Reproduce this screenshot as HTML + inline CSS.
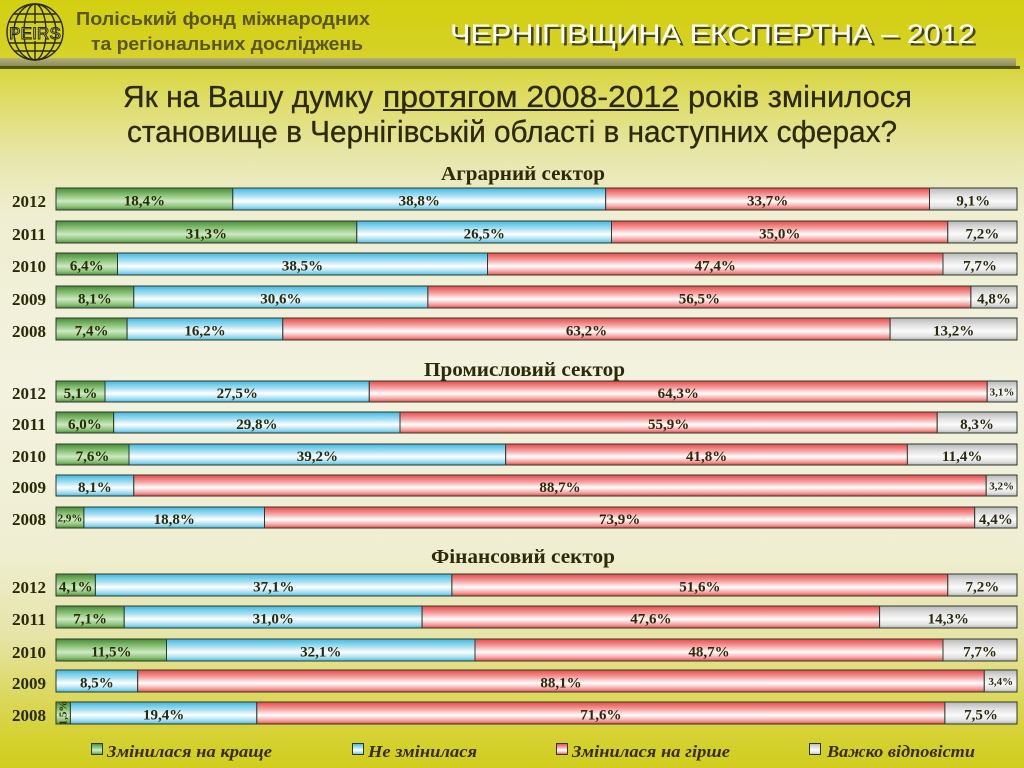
<!DOCTYPE html>
<html><head><meta charset="utf-8"><style>
html,body{margin:0;padding:0;width:1024px;height:768px;overflow:hidden;}
svg{display:block;}
.yr{font-family:"Liberation Serif",serif;font-weight:bold;font-size:17px;fill:#2a2a08;}
.lb{font-family:"Liberation Serif",serif;font-weight:bold;font-size:15px;fill:#2b2b0c;text-anchor:middle;}
.sm{font-family:"Liberation Serif",serif;font-weight:bold;font-size:11px;fill:#2b2b0c;text-anchor:middle;}
.st{font-family:"Liberation Serif",serif;font-weight:bold;font-size:20px;fill:#2d2a0a;}
.q{font-family:"Liberation Sans",sans-serif;font-size:31px;fill:#2d2a0a;stroke:#2d2a0a;stroke-width:0.3;}
.lg{font-family:"Liberation Serif",serif;font-weight:bold;font-style:italic;font-size:17px;fill:#3b2a06;}
</style></head><body>
<svg width="1024" height="768" viewBox="0 0 1024 768" xmlns="http://www.w3.org/2000/svg">
<defs>
<linearGradient id="bg" x1="0" y1="0" x2="0" y2="1">
<stop offset="0" stop-color="#d3cf10"/><stop offset="0.075" stop-color="#d6d228"/>
<stop offset="0.1" stop-color="#dbd84a"/><stop offset="0.2" stop-color="#e7e6a8"/>
<stop offset="0.28" stop-color="#efeed2"/><stop offset="0.5" stop-color="#f3f2e0"/>
<stop offset="0.72" stop-color="#efeed2"/><stop offset="0.83" stop-color="#e6e4a6"/>
<stop offset="0.92" stop-color="#dad652"/><stop offset="0.97" stop-color="#d4d02c"/>
<stop offset="1" stop-color="#d1cd1e"/></linearGradient>
<linearGradient id="G" x1="0" y1="0" x2="0" y2="1"><stop offset="0" stop-color="#4a8a3a"/><stop offset="0.35" stop-color="#8ec77c"/><stop offset="0.6" stop-color="#cfe9c3"/><stop offset="0.85" stop-color="#88c276"/><stop offset="1" stop-color="#4f8c40"/></linearGradient>
<linearGradient id="B" x1="0" y1="0" x2="0" y2="1"><stop offset="0" stop-color="#40b8e0"/><stop offset="0.35" stop-color="#a8e0f2"/><stop offset="0.6" stop-color="#ffffff"/><stop offset="0.85" stop-color="#a0dcf0"/><stop offset="1" stop-color="#48bce2"/></linearGradient>
<linearGradient id="R" x1="0" y1="0" x2="0" y2="1"><stop offset="0" stop-color="#e84848"/><stop offset="0.35" stop-color="#f6a8a8"/><stop offset="0.6" stop-color="#ffffff"/><stop offset="0.85" stop-color="#f4a0a0"/><stop offset="1" stop-color="#e84c4c"/></linearGradient>
<linearGradient id="Y" x1="0" y1="0" x2="0" y2="1"><stop offset="0" stop-color="#b8b8b8"/><stop offset="0.35" stop-color="#e4e4e4"/><stop offset="0.6" stop-color="#fafafa"/><stop offset="0.85" stop-color="#e0e0e0"/><stop offset="1" stop-color="#b4b4b4"/></linearGradient>
<linearGradient id="band" x1="0" y1="0" x2="0" y2="1"><stop offset="0" stop-color="#b4b27a"/><stop offset="1" stop-color="#8e8c58"/></linearGradient>
</defs>
<rect x="0" y="0" width="1024" height="768" fill="url(#bg)"/>

<!-- header -->
<rect x="0" y="58" width="1016" height="8" fill="url(#band)"/>
<rect x="0" y="66" width="1020" height="3" fill="#55560e"/>
<g fill="none" stroke="#2a2a1a" stroke-width="1.4">
<circle cx="35" cy="32" r="28"/>
<ellipse cx="35" cy="32" rx="11" ry="28"/>
<ellipse cx="35" cy="32" rx="21" ry="28"/>
<line x1="35" y1="4" x2="35" y2="24"/>
<line x1="35" y1="41" x2="35" y2="60"/>
<line x1="14" y1="14" x2="56" y2="14"/>
<line x1="9" y1="22" x2="61" y2="22"/>
<line x1="9" y1="43" x2="61" y2="43"/>
<line x1="14" y1="51" x2="56" y2="51"/>
</g>
<text x="35" y="39" text-anchor="middle" font-family="Liberation Sans, sans-serif" font-size="17" fill="#e2de6a" stroke="#222" stroke-width="0.9" textLength="52" lengthAdjust="spacingAndGlyphs">PEIRS</text>
<text x="76" y="25" font-family="Liberation Sans, sans-serif" font-weight="bold" font-size="18" fill="#5b5520" textLength="294" lengthAdjust="spacingAndGlyphs">Поліський фонд міжнародних</text>
<text x="91" y="50" font-family="Liberation Sans, sans-serif" font-weight="bold" font-size="18" fill="#5b5520" textLength="272" lengthAdjust="spacingAndGlyphs">та регіональних досліджень</text>
<text x="452.5" y="45.5" font-family="Liberation Sans, sans-serif" font-size="27" fill="#333322" opacity="0.9" textLength="525" lengthAdjust="spacingAndGlyphs">ЧЕРНІГІВЩИНА ЕКСПЕРТНА – 2012</text>
<text x="450" y="43" font-family="Liberation Sans, sans-serif" font-size="27" fill="#ffffff" textLength="525" lengthAdjust="spacingAndGlyphs">ЧЕРНІГІВЩИНА ЕКСПЕРТНА – 2012</text>

<!-- question -->
<text class="q" x="123" y="107" textLength="250" lengthAdjust="spacingAndGlyphs">Як на Вашу думку</text>
<text class="q" x="383" y="107" textLength="296" lengthAdjust="spacingAndGlyphs">протягом 2008-2012</text>
<line x1="383" y1="110" x2="679" y2="110" stroke="#2d2a0a" stroke-width="2"/>
<text class="q" x="688" y="107" textLength="224" lengthAdjust="spacingAndGlyphs">років змінилося</text>
<text class="q" x="127" y="142" textLength="770" lengthAdjust="spacingAndGlyphs">становище в Чернігівській області в наступних сферах?</text>

<!-- section titles -->
<text class="st" x="441" y="180" textLength="164" lengthAdjust="spacingAndGlyphs">Аграрний сектор</text>
<text class="st" x="424" y="376" textLength="201" lengthAdjust="spacingAndGlyphs">Промисловий сектор</text>
<text class="st" x="431" y="563" textLength="184" lengthAdjust="spacingAndGlyphs">Фінансовий сектор</text>

<!-- bars -->
<g stroke="#2c3a2c" stroke-width="1">
<rect x="56" y="188" width="176.8" height="22" fill="url(#G)"/><rect x="232.8" y="188" width="372.9" height="22" fill="url(#B)"/><rect x="605.7" y="188" width="323.8" height="22" fill="url(#R)"/><rect x="929.5" y="188" width="87.5" height="22" fill="url(#Y)"/>
<rect x="56" y="221" width="300.8" height="22" fill="url(#G)"/><rect x="356.8" y="221" width="254.7" height="22" fill="url(#B)"/><rect x="611.5" y="221" width="336.3" height="22" fill="url(#R)"/><rect x="947.8" y="221" width="69.2" height="22" fill="url(#Y)"/>
<rect x="56" y="253" width="61.5" height="22" fill="url(#G)"/><rect x="117.5" y="253" width="370" height="22" fill="url(#B)"/><rect x="487.5" y="253" width="455.5" height="22" fill="url(#R)"/><rect x="943" y="253" width="74" height="22" fill="url(#Y)"/>
<rect x="56" y="286" width="77.8" height="22" fill="url(#G)"/><rect x="133.8" y="286" width="294.1" height="22" fill="url(#B)"/><rect x="427.9" y="286" width="543" height="22" fill="url(#R)"/><rect x="970.9" y="286" width="46.1" height="22" fill="url(#Y)"/>
<rect x="56" y="318" width="71.1" height="22" fill="url(#G)"/><rect x="127.1" y="318" width="155.7" height="22" fill="url(#B)"/><rect x="282.8" y="318" width="607.3" height="22" fill="url(#R)"/><rect x="890.1" y="318" width="126.9" height="22" fill="url(#Y)"/>
<rect x="56" y="381" width="49" height="21" fill="url(#G)"/><rect x="105" y="381" width="264.3" height="21" fill="url(#B)"/><rect x="369.3" y="381" width="617.9" height="21" fill="url(#R)"/><rect x="987.2" y="381" width="29.8" height="21" fill="url(#Y)"/>
<rect x="56" y="412" width="57.7" height="21" fill="url(#G)"/><rect x="113.7" y="412" width="286.3" height="21" fill="url(#B)"/><rect x="400" y="412" width="537.2" height="21" fill="url(#R)"/><rect x="937.2" y="412" width="79.8" height="21" fill="url(#Y)"/>
<rect x="56" y="444" width="73" height="21" fill="url(#G)"/><rect x="129" y="444" width="376.7" height="21" fill="url(#B)"/><rect x="505.7" y="444" width="401.7" height="21" fill="url(#R)"/><rect x="907.4" y="444" width="109.6" height="21" fill="url(#Y)"/>
<rect x="56" y="475" width="77.8" height="21" fill="url(#B)"/><rect x="133.8" y="475" width="852.4" height="21" fill="url(#R)"/><rect x="986.2" y="475" width="30.8" height="21" fill="url(#Y)"/>
<rect x="56" y="507" width="27.9" height="21" fill="url(#G)"/><rect x="83.9" y="507" width="180.6" height="21" fill="url(#B)"/><rect x="264.5" y="507" width="710.2" height="21" fill="url(#R)"/><rect x="974.7" y="507" width="42.3" height="21" fill="url(#Y)"/>
<rect x="56" y="574" width="39.4" height="22" fill="url(#G)"/><rect x="95.4" y="574" width="356.5" height="22" fill="url(#B)"/><rect x="451.9" y="574" width="495.9" height="22" fill="url(#R)"/><rect x="947.8" y="574" width="69.2" height="22" fill="url(#Y)"/>
<rect x="56" y="606" width="68.2" height="22" fill="url(#G)"/><rect x="124.2" y="606" width="297.9" height="22" fill="url(#B)"/><rect x="422.1" y="606" width="457.5" height="22" fill="url(#R)"/><rect x="879.6" y="606" width="137.4" height="22" fill="url(#Y)"/>
<rect x="56" y="639" width="110.5" height="22" fill="url(#G)"/><rect x="166.5" y="639" width="308.5" height="22" fill="url(#B)"/><rect x="475" y="639" width="468" height="22" fill="url(#R)"/><rect x="943" y="639" width="74" height="22" fill="url(#Y)"/>
<rect x="56" y="670" width="81.7" height="22" fill="url(#B)"/><rect x="137.7" y="670" width="846.6" height="22" fill="url(#R)"/><rect x="984.3" y="670" width="32.7" height="22" fill="url(#Y)"/>
<rect x="56" y="702" width="14.4" height="22" fill="url(#G)"/><rect x="70.4" y="702" width="186.4" height="22" fill="url(#B)"/><rect x="256.8" y="702" width="688.1" height="22" fill="url(#R)"/><rect x="944.9" y="702" width="72.1" height="22" fill="url(#Y)"/>
</g>

<!-- year labels -->
<text class="yr" x="12" y="207" textLength="34" lengthAdjust="spacingAndGlyphs">2012</text>
<text class="yr" x="12" y="240" textLength="34" lengthAdjust="spacingAndGlyphs">2011</text>
<text class="yr" x="12" y="272" textLength="34" lengthAdjust="spacingAndGlyphs">2010</text>
<text class="yr" x="12" y="305" textLength="34" lengthAdjust="spacingAndGlyphs">2009</text>
<text class="yr" x="12" y="337" textLength="34" lengthAdjust="spacingAndGlyphs">2008</text>
<text class="yr" x="12" y="399" textLength="34" lengthAdjust="spacingAndGlyphs">2012</text>
<text class="yr" x="12" y="430" textLength="34" lengthAdjust="spacingAndGlyphs">2011</text>
<text class="yr" x="12" y="462" textLength="34" lengthAdjust="spacingAndGlyphs">2010</text>
<text class="yr" x="12" y="493" textLength="34" lengthAdjust="spacingAndGlyphs">2009</text>
<text class="yr" x="12" y="525" textLength="34" lengthAdjust="spacingAndGlyphs">2008</text>
<text class="yr" x="12" y="593" textLength="34" lengthAdjust="spacingAndGlyphs">2012</text>
<text class="yr" x="12" y="625" textLength="34" lengthAdjust="spacingAndGlyphs">2011</text>
<text class="yr" x="12" y="658" textLength="34" lengthAdjust="spacingAndGlyphs">2010</text>
<text class="yr" x="12" y="689" textLength="34" lengthAdjust="spacingAndGlyphs">2009</text>
<text class="yr" x="12" y="721" textLength="34" lengthAdjust="spacingAndGlyphs">2008</text>

<!-- value labels -->
<text class="lb" x="144.4" y="205.5">18,4%</text><text class="lb" x="419.3" y="205.5">38,8%</text><text class="lb" x="767.6" y="205.5">33,7%</text><text class="lb" x="973.3" y="205.5">9,1%</text>
<text class="lb" x="206.4" y="238.5">31,3%</text><text class="lb" x="484.2" y="238.5">26,5%</text><text class="lb" x="779.7" y="238.5">35,0%</text><text class="lb" x="982.4" y="238.5">7,2%</text>
<text class="lb" x="86.8" y="270.5">6,4%</text><text class="lb" x="302.5" y="270.5">38,5%</text><text class="lb" x="715.3" y="270.5">47,4%</text><text class="lb" x="980" y="270.5">7,7%</text>
<text class="lb" x="94.9" y="303.5">8,1%</text><text class="lb" x="280.9" y="303.5">30,6%</text><text class="lb" x="699.4" y="303.5">56,5%</text><text class="lb" x="994" y="303.5">4,8%</text>
<text class="lb" x="91.6" y="335.5">7,4%</text><text class="lb" x="205" y="335.5">16,2%</text><text class="lb" x="586.5" y="335.5">63,2%</text><text class="lb" x="953.6" y="335.5">13,2%</text>

<text class="lb" x="80.5" y="398">5,1%</text><text class="lb" x="237.2" y="398">27,5%</text><text class="lb" x="678.3" y="398">64,3%</text><text class="sm" x="1002" y="395.5">3,1%</text>
<text class="lb" x="84.9" y="429">6,0%</text><text class="lb" x="256.9" y="429">29,8%</text><text class="lb" x="668.6" y="429">55,9%</text><text class="lb" x="977" y="429">8,3%</text>
<text class="lb" x="92.5" y="461">7,6%</text><text class="lb" x="317.4" y="461">39,2%</text><text class="lb" x="706.6" y="461">41,8%</text><text class="lb" x="962.2" y="461">11,4%</text>
<text class="lb" x="94.9" y="492">8,1%</text><text class="lb" x="560" y="492">88,7%</text><text class="sm" x="1001.6" y="489.5">3,2%</text>
<text class="sm" x="70" y="521.5">2,9%</text><text class="lb" x="174.2" y="524">18,8%</text><text class="lb" x="619.6" y="524">73,9%</text><text class="lb" x="995.9" y="524">4,4%</text>

<text class="lb" x="75.7" y="591.5">4,1%</text><text class="lb" x="273.7" y="591.5">37,1%</text><text class="lb" x="699.9" y="591.5">51,6%</text><text class="lb" x="982.4" y="591.5">7,2%</text>
<text class="lb" x="90.1" y="623.5">7,1%</text><text class="lb" x="273.2" y="623.5">31,0%</text><text class="lb" x="650.9" y="623.5">47,6%</text><text class="lb" x="948.3" y="623.5">14,3%</text>
<text class="lb" x="111.3" y="656.5">11,5%</text><text class="lb" x="320.8" y="656.5">32,1%</text><text class="lb" x="709" y="656.5">48,7%</text><text class="lb" x="980" y="656.5">7,7%</text>
<text class="lb" x="96.9" y="687.5">8,5%</text><text class="lb" x="561" y="687.5">88,1%</text><text class="sm" x="1000.7" y="685">3,4%</text>
<text class="sm" x="0" y="0" font-size="9" transform="translate(66.5,713) rotate(-90)">1,5%</text><text class="lb" x="163.6" y="719.5">19,4%</text><text class="lb" x="600.9" y="719.5">71,6%</text><text class="lb" x="981" y="719.5">7,5%</text>

<!-- legend -->
<g stroke="#2c3a2c" stroke-width="1">
<rect x="91.5" y="743.5" width="11" height="11" fill="url(#G)"/>
<rect x="352.5" y="743.5" width="11" height="11" fill="url(#B)"/>
<rect x="556.5" y="743.5" width="11" height="11" fill="url(#R)"/>
<rect x="809.5" y="743.5" width="11" height="11" fill="url(#Y)"/>
</g>
<text class="lg" x="107" y="757" textLength="165" lengthAdjust="spacingAndGlyphs">Змінилася на краще</text>
<text class="lg" x="368" y="757" textLength="109" lengthAdjust="spacingAndGlyphs">Не змінилася</text>
<text class="lg" x="572" y="757" textLength="158" lengthAdjust="spacingAndGlyphs">Змінилася на гірше</text>
<text class="lg" x="827" y="757" textLength="148" lengthAdjust="spacingAndGlyphs">Важко відповісти</text>
</svg>
</body></html>
